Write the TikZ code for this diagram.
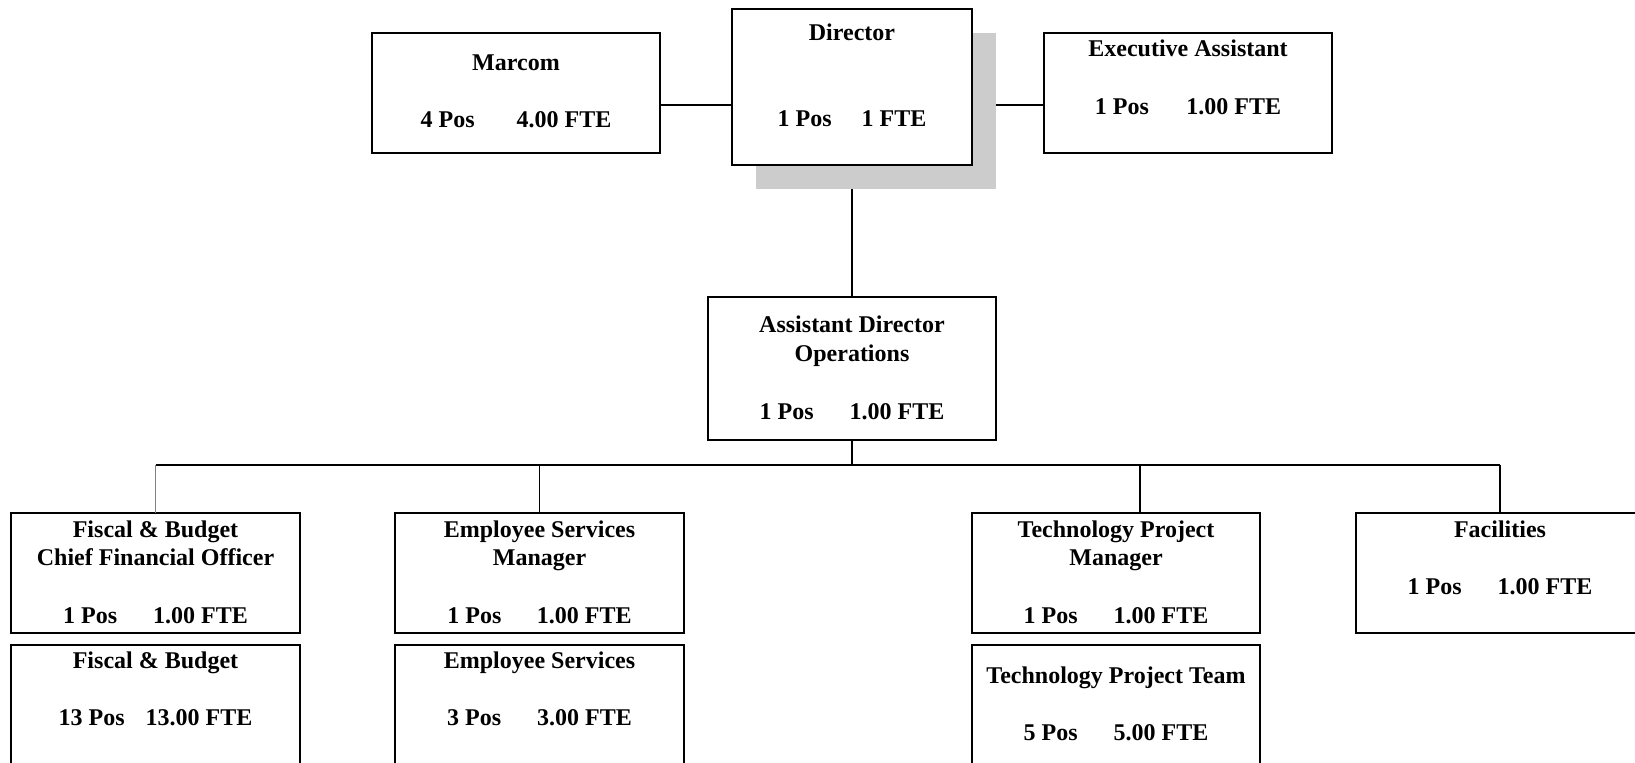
\documentclass[tikz,border=0pt]{standalone}
\usepackage{fontspec}
\setmainfont{Liberation Serif}
\usetikzlibrary{positioning}
\newcommand{\pf}[3][18pt]{#2\hspace{#1}#3}

\begin{document}
\begin{tikzpicture}[x=0.5pt,y=-0.5pt,
  unit/.style={draw, line width=1pt, fill=white, inner sep=0pt, outer sep=0pt,
    minimum width=144pt, minimum height=60pt},
  txt/.style={font=\fontsize{12}{14.4}\selectfont\bfseries, align=center, inner sep=0pt},
  link/.style={line width=0.9pt},
  faint/.style={line width=0.7pt, draw=gray}]
\useasboundingbox (0,0) rectangle (1635,762);
\clip (0,0) rectangle (1635,762);

% top row
\node[unit, fill=black!20, draw=none, minimum width=120pt, minimum height=78pt] (shade) at (876,111) {};
\node[unit, minimum width=120pt, minimum height=78pt] (dir) at (852,87) {};
\node[unit] (marcom) at (516,93) {};
\node[unit] (exec) at (1188,93) {};
\node[txt, below=7pt of dir.north] (dir-t) {Director\\[28.8pt]\pf[15pt]{1 Pos}{1 FTE}};
\node[txt, below=10.5pt of marcom.north] (marcom-t) {Marcom\\[14.4pt]\pf[21pt]{4 Pos}{4.00 FTE}};
\node[txt, below=3.3pt of exec.north] (exec-t) {Executive Assistant\\[14.4pt]\pf[18.8pt]{1 Pos}{1.00 FTE}};

\coordinate (hline) at (0,105);
\draw[link] (marcom.east |- hline) -- (dir.west |- hline);
\draw[link] (shade.east |- hline) -- (exec.west |- hline);

% operations
\node[unit, minimum height=71.5pt] (asst) at (852,368.5) {};
\node[txt, below=9.3pt of asst.north] (asst-t) {Assistant Director\\Operations\\[14.4pt]\pf{1 Pos}{1.00 FTE}};
\draw[link] (dir.south |- shade.south) -- (asst.north);

% second level
\node[unit, minimum width=144.5pt] (fisc) at (155.5,573) {};
\node[unit, minimum width=144.5pt] (esm) at (539.5,573) {};
\node[unit] (tpm) at (1116,573) {};
\node[unit] (fac) at (1500,573) {};
\node[txt, below=3.5pt of fisc.north] (fisc-t) {Fiscal \& Budget\\Chief Financial Officer\\[14.4pt]\pf{1 Pos}{1.00 FTE}};
\node[txt, below=3.5pt of esm.north] (esm-t) {Employee Services\\Manager\\[14.4pt]\pf[17.7pt]{1 Pos}{1.00 FTE}};
\node[txt, below=3.5pt of tpm.north] (tpm-t) {Technology Project\\Manager\\[14.4pt]\pf{1 Pos}{1.00 FTE}};
\node[txt, below=3.5pt of fac.north] (fac-t) {Facilities\\[14.4pt]\pf{1 Pos}{1.00 FTE}};

% teams
\node[unit, minimum width=144.5pt, minimum height=70pt] (fisc2) at (155.5,715) {};
\node[unit, minimum width=144.5pt, minimum height=70pt] (es2) at (539.5,715) {};
\node[unit, minimum height=70pt] (tpt) at (1116,715) {};
\node[txt, below=3pt of fisc2.north] (fisc2-t) {Fiscal \& Budget\\[14.4pt]\pf[10.5pt]{13 Pos}{13.00 FTE}};
\node[txt, below=3pt of es2.north] (es2-t) {Employee Services\\[14.4pt]\pf{3 Pos}{3.00 FTE}};
\node[txt, below=10.5pt of tpt.north] (tpt-t) {Technology Project Team\\[14.4pt]\pf{5 Pos}{5.00 FTE}};

% bus
\coordinate (bus) at (852,465);
\draw[link] (asst.south) -- (bus);
\draw[link] (fisc.north |- bus) -- (fac.north |- bus);
\draw[faint] (fisc.north |- bus) -- (fisc.north);
\draw[link] (esm.north |- bus) -- (esm.north);
\draw[link] ([xshift=12pt]tpm.north |- bus) -- ([xshift=12pt]tpm.north);
\draw[link] (fac.north |- bus) -- (fac.north);
\end{tikzpicture}
\end{document}
